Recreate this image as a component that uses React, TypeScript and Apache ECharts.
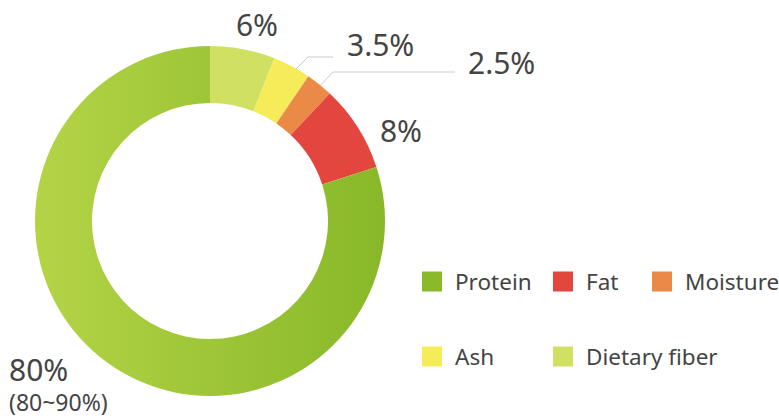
import React, { useEffect, useRef } from "react";
import * as echarts from "echarts";

// Pie order (clockwise from 12 o'clock)
const categories = ["Dietary fiber", "Ash", "Moisture", "Fat", "Protein"];
const values = [6, 3.5, 2.5, 8, 80];
const colors = ["#d0e063", "#f6ec59", "#eb8a47", "#e3463f", "#8ab92a"];
const legendOrder = ["Protein", "Fat", "Moisture", "Ash", "Dietary fiber"];
const rangeNotes: Record<string, string> = { Protein: "(80~90%)" };

const CENTER: [number, number] = [210, 221];
const R_IN = 118;
const R_OUT = 175;

// label anchor positions (chart pixel coordinates)
const labelPos: Record<string, { x: number; y: number; align: string }> = {
  "Dietary fiber": { x: 257, y: 24, align: "center" },
  Ash: { x: 347, y: 44, align: "left" },
  Moisture: { x: 468, y: 62, align: "left" },
  Fat: { x: 401, y: 130, align: "center" },
  Protein: { x: 9, y: 384, align: "left" },
};
const lineElbow: Record<string, [number, number, number]> = {
  // [elbow x, elbow y, end x]
  Ash: [308, 57, 333],
  Moisture: [333, 72, 455],
};

const FONT = "'Noto Sans', sans-serif";

export default function App() {
  const ref = useRef<HTMLDivElement>(null);
  useEffect(() => {
    if (!ref.current) return;
    const chart = echarts.init(ref.current, undefined, { renderer: "svg" });
    const total = values.reduce((a, b) => a + b, 0);
    const midAngles: number[] = [];
    let acc = 0;
    values.forEach((v) => {
      midAngles.push(((acc + v / 2) / total) * Math.PI * 2);
      acc += v;
    });

    const data = categories.map((name, i) => {
      const item: any = {
        name,
        value: values[i],
        itemStyle: { color: colors[i] },
        labelLine: { show: !!lineElbow[name] },
      };
      if (name === "Protein") {
        item.itemStyle = {
          color: new echarts.graphic.LinearGradient(0, 0, 1, 0, [
            { offset: 0, color: "#b4d446" },
            { offset: 1, color: "#88b829" },
          ]),
        };
      }
      return item;
    });

    const legendItem = (name: string) => ({
      name,
      itemStyle: { color: colors[categories.indexOf(name)] },
    });

    const legendCommon = {
      icon: "rect",
      itemWidth: 20,
      itemHeight: 20,
      orient: "vertical" as const,
      itemGap: 52,
      textStyle: { fontSize: 22.5, color: "#444", fontFamily: FONT, padding: [0, 0, 0, 8] },
      selectedMode: false,
    };

    chart.setOption({
      animation: false,
      legend: [
        { ...legendCommon, left: 417, top: 265, data: [legendItem(legendOrder[0]), legendItem(legendOrder[3])] },
        { ...legendCommon, left: 548, top: 265, data: [legendItem(legendOrder[1]), legendItem(legendOrder[4])] },
        { ...legendCommon, left: 647, top: 265, data: [legendItem(legendOrder[2])] },
      ],
      series: [
        {
          type: "pie",
          center: CENTER,
          radius: [R_IN, R_OUT],
          startAngle: 90,
          clockwise: true,
          avoidLabelOverlap: false,
          data,
          label: {
            show: true,
            position: "outside",
            fontFamily: FONT,
            fontSize: 30,
            color: "#444",
            formatter: (p: any) =>
              rangeNotes[p.name]
                ? `{a|${p.value}%}\n{b|${rangeNotes[p.name]}}`
                : `${p.value}%`,
            rich: {
              a: { fontSize: 30, color: "#444", fontFamily: FONT, lineHeight: 36 },
              b: { fontSize: 23, color: "#444", fontFamily: FONT, lineHeight: 30 },
            },
          },
          labelLine: {
            lineStyle: { color: "#cccccc", width: 1 },
          },
          labelLayout: (params: any) => {
            const name = categories[params.dataIndex];
            const pos = labelPos[name];
            const res: any = {
              x: pos.x,
              y: pos.y,
              align: pos.align,
              verticalAlign: "middle",
            };
            const el = lineElbow[name];
            if (el) {
              const a = midAngles[params.dataIndex];
              const r = 159;
              const sx = CENTER[0] + r * Math.sin(a);
              const sy = CENTER[1] - r * Math.cos(a);
              res.labelLinePoints = [
                [sx, sy],
                [el[0], el[1]],
                [el[2], el[1]],
              ];
            }
            return res;
          },
        },
      ],
    });
    return () => chart.dispose();
  }, []);
  return (
    <div
      ref={ref}
      style={{ position: "fixed", left: 0, top: 0, width: 779, height: 420, background: "#fff" }}
    />
  );
}
